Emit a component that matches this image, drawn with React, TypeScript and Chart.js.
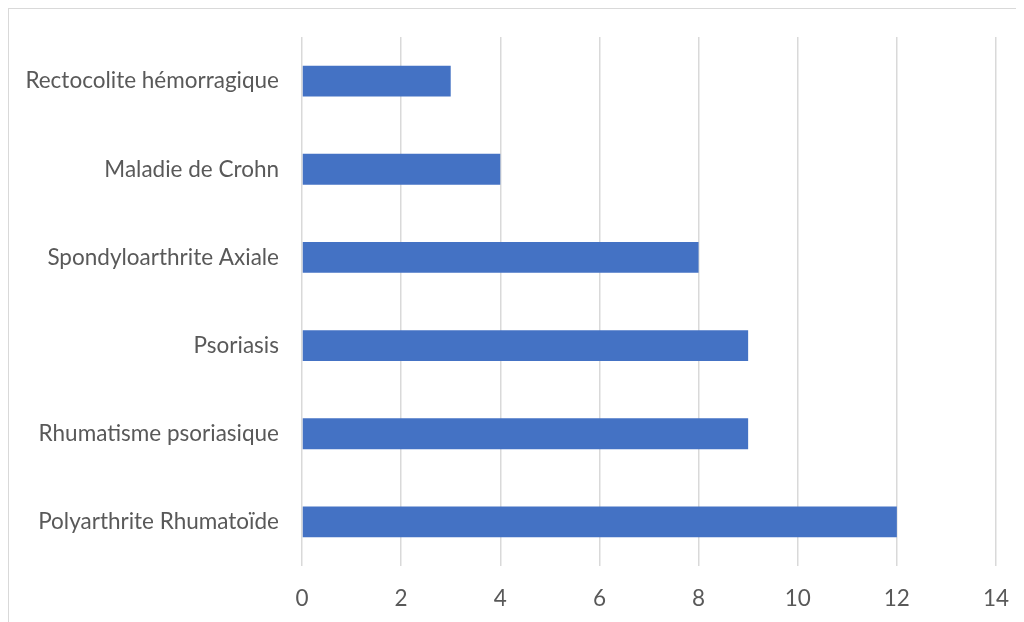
import React, { useEffect, useRef } from "react";
import { Chart, registerables } from "chart.js";

Chart.register(...registerables);

const categories: string[] = [
  "Rectocolite hémorragique",
  "Maladie de Crohn",
  "Spondyloarthrite Axiale",
  "Psoriasis",
  "Rhumatisme psoriasique",
  "Polyarthrite Rhumatoïde",
];
const values: number[] = [3, 4, 8, 9, 9, 12];
const xMin = 0;
const xMax = 14;
const xStep = 2;

const FONT = "Lato, 'Open Sans', sans-serif";
const TEXT = "#595959";

export default function App() {
  const ref = useRef<HTMLCanvasElement | null>(null);

  useEffect(() => {
    if (!ref.current) return;
    const chart = new Chart(ref.current, {
      type: "bar",
      data: {
        labels: categories,
        datasets: [
          {
            data: values,
            backgroundColor: "#4472C4",
            borderWidth: 0,
            categoryPercentage: 1,
            barPercentage: 0.35,
          },
        ],
      },
      options: {
        indexAxis: "y",
        animation: false,
        responsive: false,
        maintainAspectRatio: false,
        layout: { padding: { top: 28, right: 28, left: 0, bottom: 0 } },
        plugins: { legend: { display: false }, tooltip: { enabled: false } },
        scales: {
          x: {
            min: xMin,
            max: xMax,
            ticks: {
              stepSize: xStep,
              color: TEXT,
              padding: 19,
              font: { family: FONT, size: 22.5 },
            },
            grid: { color: "#D9D9D9", lineWidth: 1.5, drawTicks: false },
            border: { display: false },
            afterFit: (s: any) => {
              s.height = 56;
              s.paddingLeft = 0;
              s.paddingRight = 0;
            },
          },
          y: {
            ticks: {
              color: TEXT,
              padding: 23,
              font: { family: FONT, size: 22.5 },
            },
            grid: { display: false, drawTicks: false },
            border: { display: false },
            afterFit: (s: any) => {
              s.width = 293;
              s.paddingTop = 0;
              s.paddingBottom = 0;
            },
          },
        },
      },
    });
    return () => chart.destroy();
  }, []);

  return (
    <div
      style={{
        width: 1016,
        height: 614,
        borderLeft: "1px solid #D9D9D9",
        borderTop: "1px solid #D9D9D9",
        overflow: "hidden",
        background: "#fff",
      }}
    >
      <canvas ref={ref} width={1015} height={613} style={{ display: "block" }} />
    </div>
  );
}
